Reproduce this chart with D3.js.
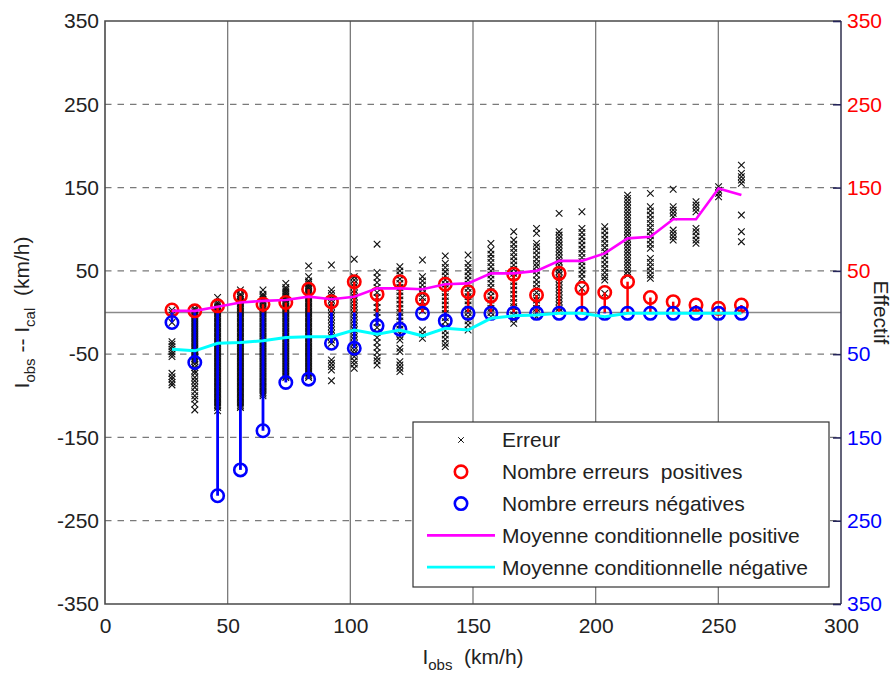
<!DOCTYPE html>
<html>
<head>
<meta charset="utf-8">
<script src="https://cdn.jsdelivr.net/npm/d3@7"></script>
<style>
  body { margin: 0; background: #fff; }
  svg { display: block; font-family: "Liberation Sans", Arial, sans-serif; }
  text { white-space: pre; }
</style>
</head>
<body>
<svg id="chart" width="896" height="675"></svg>
<script>
// bins (I_obs, km/h)
const binX = [27.3, 36.6, 45.9, 55.2, 64.4, 73.7, 83.0, 92.3, 101.6, 110.9, 120.2, 129.4, 138.7,
  148.0, 157.3, 166.6, 175.9, 185.1, 194.4, 203.7, 213.0, 222.3, 231.6, 240.9, 250.1, 259.4];

// number of positive / negative errors per bin (Effectif)
const posCount = [3, 2, 8, 20, 10, 12, 28, 13, 37, 22, 37, 16, 34, 25, 20, 46, 21, 47, 29, 24, 37, 18, 13, 9, 5, 9];
const negCount = [12, 60, 220, 189, 142, 84, 80, 37, 43, 16, 20, 1, 10, 1, 1, 1, 1, 1, 1, 1, 1, 1, 1, 1, 1, 1];

// conditional means
const posMean = [2, 2, 7, 12, 14, 15, 19, 16, 19, 29, 29, 28, 34, 35, 47, 47, 50, 62, 62, 71, 89, 91, 112, 112, 149, 141];
const negMean = [-44, -46, -37, -36, -34, -30, -29, -29, -21, -26, -21, -28, -19, -21, -7, -4, -3, -1, -1, -5, -1, -1, -1, -1, -1, -1];

// individual errors I_obs - I_cal, one list per bin
const errors = [
  [3, 0, -12, -35, -38, -41, -44, -47, -50, -53, -73, -77, -80, -84, -87],
  [5, 3, 1, -1, -3, -5, -7, -9, -11, -13, -15, -17, -19, -21, -23, -25, -27, -29, -31, -33, -35, -37, -39, -41, -43, -45, -47, -49, -51, -53, -55, -57, -59,
    -62, -66, -70, -73, -78, -82, -86, -90, -95, -100, -104, -110, -117],
  [18, 12, 10, 8, 6, 4, 2, 0, -2, -4, -6, -8, -10, -12, -14, -16, -18, -20, -22, -24, -26, -28, -30, -32, -34, -36, -38, -40,
    -42, -44, -46, -48, -50, -52, -54, -56, -58, -60, -62, -64, -66, -68, -70, -72, -74, -76, -78, -80, -82, -84,
    -86, -88, -90, -92, -94, -96, -98, -100, -102, -104, -106, -108, -110, -112, -114, -118],
  [27, 22, 20, 18, 16, 14, 12, 10, 8, 6, 4, 2, 0, -2, -4, -6, -8, -10, -12, -14, -16, -18, -20, -22, -24, -26, -28, -30,
    -32, -34, -36, -38, -40, -42, -44, -46, -48, -50, -52, -54, -56, -58, -60, -62, -64, -66, -68, -70, -72, -74,
    -76, -78, -80, -82, -84, -86, -88, -90, -92, -94, -96, -98, -100, -102, -104, -106, -108, -110, -112, -114],
  [27, 22, 20, 18, 16, 14, 12, 10, 8, 6, 4, 2, 0, -2, -4, -6, -8, -10, -12, -14, -16, -18, -20, -22, -24, -26, -28, -30,
    -32, -34, -36, -38, -40, -42, -44, -46, -48, -50, -52, -54, -56, -58, -60, -62, -64, -66, -68, -70, -72, -74,
    -76, -78, -80, -82, -84, -86, -88, -90, -92, -94, -96, -98, -100],
  [35, 30, 28, 26, 24, 22, 20, 18, 16, 14, 12, 10, 8, 6, 4, 2, 0, -2, -4, -6, -8, -10, -12, -14, -16, -18, -20, -22,
    -24, -26, -28, -30, -32, -34, -36, -38, -40, -42, -44, -46, -48, -50, -52, -54, -56, -58, -60, -62, -64, -66,
    -68, -70, -72, -74, -76, -78],
  [56, 43, 38, 36, 34, 32, 30, 28, 26, 24, 22, 20, 18, 16, 14, 12, 10, 8, 6, 4, 2, 0, -2, -4, -6, -8, -10, -12, -14,
    -16, -18, -20, -22, -24, -26, -28, -30, -32, -34, -36, -38, -40, -42, -44, -46, -48, -50, -52, -54, -56, -58,
    -60, -62, -64, -66, -68, -70, -72, -74, -76, -78],
  [57, 27, 23, 19, 15, 11, 7, 3, -1, -5, -9, -13, -17, -21, -25, -29, -33, -37, -57, -61, -65, -69, -82],
  [64, 43, 39, 35, 31, 27, 23, 19, 15, 11, 7, 3, -1, -5, -9, -13, -17, -21, -25, -29, -33, -37, -41, -45, -49, -53, -58, -62, -67],
  [82, 48, 42, 36, 30, 24, 18, 12, 6, 0, -6, -12, -18, -24, -30, -36, -42, -48, -54, -58, -63],
  [55, 50, 45, 40, 35, 30, 25, 20, 15, 10, 5, 0, -5, -10, -15, -20, -25, -29, -33, -43, -47, -59, -63, -67, -71],
  [63, 43, 38, 33, 28, 23, 18, 13, 7, 2, -21, -26, -31],
  [68, 59, 54, 49, 44, 39, 34, 29, 24, 19, 14, 9, 4, -1, -6, -11, -17, -22, -27, -32, -37, -41],
  [69, 59, 54, 49, 44, 39, 34, 29, 24, 19, 14, 9, 4, 0, -5, -10, -15, -21],
  [83, 75, 70, 65, 60, 55, 50, 45, 40, 35, 30, 25, 20, 15, 10, 5, 0, -5],
  [97, 87, 82, 77, 72, 67, 62, 57, 52, 47, 42, 37, 32, 27, 22, 17, 12, 7, 2, -3, -8, -13],
  [101, 95, 83, 79, 74, 69, 64, 59, 55, 50, 45, 39, 34, 29, 24, 19, 15, 10, 5, 0, -5],
  [119, 97, 93, 89, 85, 81, 77, 73, 69, 65, 61, 57, 53, 49, 45, 41, 37, 33, 29, 25, 21, 17, 13, 9, 5, 1],
  [121, 101, 96, 91, 86, 81, 76, 71, 66, 61, 56, 51, 46, 41, 29],
  [103, 98, 93, 88, 83, 78, 73, 68, 63, 58, 53, 48, 43, 39, 23],
  [141, 137, 133, 129, 125, 121, 117, 113, 109, 105, 101, 97, 93, 89, 85, 81, 77, 73, 69, 65, 61, 57, 53, 49, 45],
  [143, 127, 122, 117, 112, 107, 102, 97, 92, 87, 82, 77, 65, 60, 55, 50, 45, 41],
  [148, 127, 123, 119, 115, 99, 95, 91, 87],
  [133, 129, 125, 121, 101, 97, 92, 87, 83],
  [151, 147, 143, 139],
  [177, 167, 163, 159, 155, 117, 97, 85]
];

const xTicks = [0, 50, 100, 150, 200, 250, 300];
const yTicks = [-350, -250, -150, -50, 50, 150, 250, 350];
const legendItems = ["Erreur", "Nombre erreurs  positives", "Nombre erreurs négatives",
  "Moyenne conditionnelle positive", "Moyenne conditionnelle négative"];

const RED = "#ff0000", BLUE = "#0000ff", MAGENTA = "#ff00ff", CYAN = "#00ffff";

const svg = d3.select("#chart");
const x = d3.scaleLinear().domain([0, 300]).range([105, 841]);
const y = d3.scaleLinear().domain([-350, 350]).range([604, 21]);

const points = errors.flatMap((list, i) => list.map(v => ({ x: binX[i], v })));
const bins = binX.map((bx, i) => ({ x: bx, pos: posCount[i], neg: negCount[i], pm: posMean[i], nm: negMean[i] }));

// grid
const grid = svg.append("g");
grid.selectAll("line.v")
    .data(xTicks.filter(t => t > 0 && t < 300))
    .join("line")
    .attr("x1", d => x(d)).attr("x2", d => x(d))
    .attr("y1", y(350)).attr("y2", y(-350))
    .attr("stroke", "#7a7a7a").attr("stroke-width", 1.3);
grid.selectAll("line.h")
    .data(yTicks.filter(t => Math.abs(t) < 350))
    .join("line")
    .attr("x1", x(0)).attr("x2", x(300))
    .attr("y1", d => y(d)).attr("y2", d => y(d))
    .attr("stroke", "#7a7a7a").attr("stroke-width", 1.3)
    .attr("stroke-dasharray", "6.5,6");
grid.append("line")
    .attr("x1", x(0)).attr("x2", x(300))
    .attr("y1", y(0)).attr("y2", y(0))
    .attr("stroke", "#8a8a8a").attr("stroke-width", 1.5);

// errors (x markers)
const s = 3.3;
svg.append("g")
    .selectAll("path")
    .data(points)
    .join("path")
    .attr("d", d => {
        const px = x(d.x), py = y(d.v);
        return `M${px - s},${py - s}L${px + s},${py + s}M${px - s},${py + s}L${px + s},${py - s}`;
    })
    .attr("stroke", "#111").attr("stroke-width", 1.1)
    .attr("fill", "none");

// stems: positive counts (red) and negative counts (blue)
const stems = svg.append("g");
stems.selectAll("line.pos")
    .data(bins)
    .join("line")
    .attr("x1", d => x(d.x)).attr("x2", d => x(d.x))
    .attr("y1", y(0)).attr("y2", d => y(d.pos))
    .attr("stroke", RED).attr("stroke-width", 2.5);
stems.selectAll("line.neg")
    .data(bins)
    .join("line")
    .attr("x1", d => x(d.x)).attr("x2", d => x(d.x))
    .attr("y1", y(0)).attr("y2", d => y(-d.neg))
    .attr("stroke", BLUE).attr("stroke-width", 2.8);
stems.selectAll("circle.pos")
    .data(bins)
    .join("circle")
    .attr("cx", d => x(d.x)).attr("cy", d => y(d.pos))
    .attr("r", 6.2)
    .attr("fill", "none").attr("stroke", RED).attr("stroke-width", 2.6);
stems.selectAll("circle.neg")
    .data(bins)
    .join("circle")
    .attr("cx", d => x(d.x)).attr("cy", d => y(-d.neg))
    .attr("r", 6.2)
    .attr("fill", "none").attr("stroke", BLUE).attr("stroke-width", 2.6);

// conditional means
const line = d3.line().x(d => x(d.x));
svg.append("path")
    .datum(bins)
    .attr("d", line.y(d => y(d.pm)))
    .attr("fill", "none").attr("stroke", MAGENTA).attr("stroke-width", 2.6);
svg.append("path")
    .datum(bins)
    .attr("d", line.y(d => y(d.nm)))
    .attr("fill", "none").attr("stroke", CYAN).attr("stroke-width", 3);

// frame
const frame = svg.append("g").attr("fill", "none");
frame.append("path")
    .attr("d", `M${x(300)},${y(350)}H${x(0)}V${y(-350)}H${x(300)}`)
    .attr("stroke", "#4a4a4a").attr("stroke-width", 1.6);
frame.append("line")
    .attr("x1", x(300)).attr("x2", x(300))
    .attr("y1", y(350)).attr("y2", y(-350))
    .attr("stroke", "#3c3c58").attr("stroke-width", 1.6);

// axes
const fontSize = 21;
const leftAxis = svg.append("g")
    .attr("transform", `translate(${x(0)},0)`)
    .call(d3.axisLeft(y).tickValues(yTicks).tickSize(0).tickPadding(6).tickFormat(d => String(d)));
leftAxis.select(".domain").remove();
leftAxis.selectAll("text").attr("font-size", fontSize).attr("fill", "#222")
    .attr("font-family", "Liberation Sans, Arial, sans-serif");

const bottomAxis = svg.append("g")
    .attr("transform", `translate(0,${y(-350)})`)
    .call(d3.axisBottom(x).tickValues(xTicks).tickSize(0).tickPadding(14));
bottomAxis.select(".domain").remove();
bottomAxis.selectAll("text").attr("font-size", fontSize).attr("fill", "#222")
    .attr("font-family", "Liberation Sans, Arial, sans-serif");

const rightAxis = svg.append("g")
    .attr("transform", `translate(${x(300)},0)`)
    .call(d3.axisRight(y).tickValues(yTicks).tickSize(-8).tickPadding(6)
        .tickFormat(d => Math.abs(d)));
rightAxis.select(".domain").remove();
rightAxis.selectAll("line").attr("stroke", "#24245a").attr("stroke-width", 1.6);
rightAxis.selectAll("text").attr("font-size", fontSize)
    .attr("font-family", "Liberation Sans, Arial, sans-serif")
    .attr("fill", d => d > 0 ? RED : BLUE);

// titles
const yTitle = svg.append("text")
    .attr("transform", `translate(29,${y(0)}) rotate(-90)`)
    .attr("text-anchor", "middle")
    .attr("font-size", fontSize).attr("fill", "#222");
yTitle.append("tspan").text("I");
yTitle.append("tspan").attr("font-size", 15).attr("dy", 6).text("obs");
yTitle.append("tspan").attr("dy", -6).text(" -- I");
yTitle.append("tspan").attr("font-size", 15).attr("dy", 6).text("cal");
yTitle.append("tspan").attr("dy", -6).text("  (km/h)");

const xTitle = svg.append("text")
    .attr("x", x(150)).attr("y", 664)
    .attr("text-anchor", "middle")
    .attr("font-size", fontSize).attr("fill", "#222");
xTitle.append("tspan").text("I");
xTitle.append("tspan").attr("font-size", 15).attr("dy", 6).text("obs");
xTitle.append("tspan").attr("dy", -6).text("  (km/h)");

svg.append("text")
    .attr("transform", `translate(874,${y(0)}) rotate(90)`)
    .attr("text-anchor", "middle")
    .attr("font-size", fontSize).attr("fill", "#222")
    .text("Effectif");

// legend
const legend = svg.append("g").attr("transform", "translate(413,422)");
legend.append("rect")
    .attr("width", 416).attr("height", 165)
    .attr("fill", "#fff").attr("stroke", "#333").attr("stroke-width", 1.2);
const rows = legend.selectAll("g.row")
    .data(legendItems)
    .join("g")
    .attr("transform", (d, i) => `translate(0,${18 + i * 31.8})`);
rows.append("text")
    .attr("x", 89).attr("dy", "0.35em")
    .attr("font-size", fontSize).attr("fill", "#222")
    .text(d => d);
rows.filter((d, i) => i === 0).append("path")
    .attr("d", `M${48 - 2.8},-2.8L${48 + 2.8},2.8M${48 - 2.8},2.8L${48 + 2.8},-2.8`)
    .attr("stroke", "#111").attr("stroke-width", 1);
rows.filter((d, i) => i === 1 || i === 2).append("circle")
    .attr("cx", 48).attr("r", 6.2)
    .attr("fill", "none").attr("stroke-width", 2.6)
    .attr("stroke", (d, i) => i === 0 ? RED : BLUE);
rows.filter((d, i) => i >= 3).append("line")
    .attr("x1", 14).attr("x2", 82)
    .attr("stroke-width", 2.8)
    .attr("stroke", (d, i) => i === 0 ? MAGENTA : CYAN);
</script>
</body>
</html>
